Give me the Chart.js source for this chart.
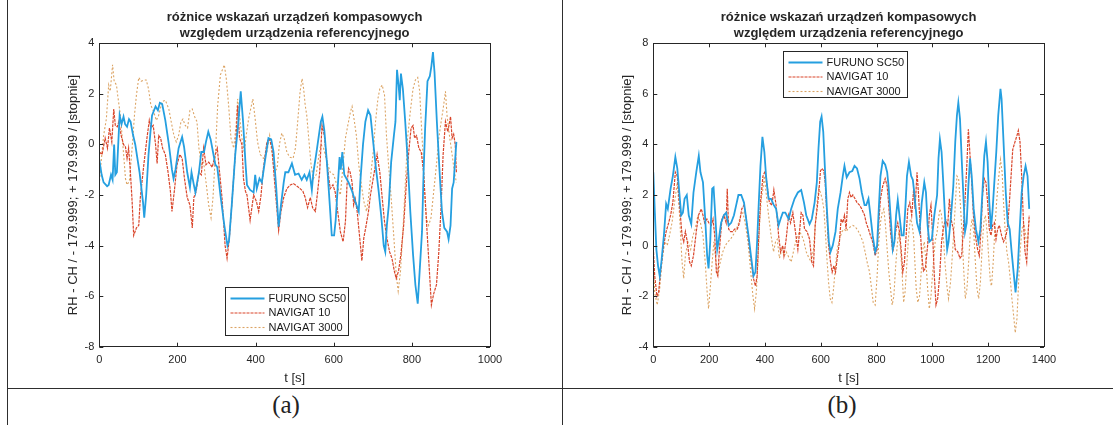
<!DOCTYPE html>
<html>
<head>
<meta charset="utf-8">
<script src="https://cdn.jsdelivr.net/npm/chart.js@4/dist/chart.umd.min.js"></script>
<style>
  body { margin: 0; background: #fff; width: 1113px; height: 425px; overflow: hidden; position: relative; font-family: "Liberation Sans", Arial, sans-serif; }
  .box { position: absolute; top: 0; }
  .rule { position: absolute; background: #2e2e2e; }
  .cap { position: absolute; top: 391px; width: 80px; text-align: center; font-family: "Liberation Serif", "DejaVu Serif", serif; font-size: 25px; color: #222; }
</style>
</head>
<body>
<div class="rule" style="left:7px; top:0; width:1px; height:425px;"></div>
<div class="rule" style="left:562px; top:0; width:1px; height:425px;"></div>
<div class="rule" style="left:7px; top:388px; width:1106px; height:1px;"></div>
<div class="box" style="left:55px;"><canvas id="chartA" width="465" height="390"></canvas></div>
<div class="box" style="left:609px;"><canvas id="chartB" width="465" height="390"></canvas></div>
<div class="cap" style="left:246px;">(a)</div>
<div class="cap" style="left:802px;">(b)</div>
<script>
const titleLines = ['różnice wskazań urządzeń kompasowych', 'względem urządzenia referencyjnego'];
const yLabel = 'RH - CH / - 179.999; + 179.999 / [stopnie]';
const xLabel = 't [s]';
const seriesNames = ['FURUNO SC50', 'NAVIGAT 10', 'NAVIGAT 3000'];

// (a)
const aFurunoT = [0,6,11,20,24,30,34,38,41,45,52,57,62,66,71,76,80,86,92,103,112,115,120,126,131,135,144,150,155,161,169,178,186,190,195,203,212,217,225,232,236,242,246,255,261,268,273,279,285,291,297,302,310,320,328,332,339,348,356,362,368,374,378,386,395,399,403,410,416,425,433,440,446,453,459,465,472,476,484,493,501,510,518,525,531,538,544,548,555,561,567,571,576,583,591,595,601,605,611,615,618,622,627,638,647,655,664,668,675,681,688,694,700,707,715,722,728,732,736,741,747,754,758,762,766,769,772,777,783,789,796,803,809,815,820,826,830,834,840,846,850,854,858,864,871,877,883,890,894,899,903,907,911,914];
const aFurunoV = [-0.6,-1.2,-1.5,-1.65,-1.6,-1.2,-1.4,0,-1.2,-1.1,1.15,0.8,1.1,0.8,0.7,1,0.9,0.4,0,-1.1,-2.3,-2.9,-2,-0.4,0.5,1.15,1.5,1.35,1.65,1.6,0.95,0,-1,-1.35,-1,-0.15,0.3,-0.1,-1.1,-1.7,-1.1,-1.6,-1.9,-1.1,-0.3,-0.3,0.1,0.5,0.2,-0.3,-0.8,-0.9,-2,-3.2,-4,-3.8,-2.4,-0.4,0.9,2.1,0.9,-0.7,-1.6,-1.8,-1.9,-1.2,-1.75,-1.35,-1.5,-0.55,0.25,0.2,-0.3,-1.75,-3.25,-2.4,-1.5,-1.1,-1.1,-0.75,-1.2,-1.15,-1.4,-1.2,-1.4,-1.1,-1.8,-1.1,-0.4,0.25,0.9,1.1,0.55,-0.8,-2.65,-3.6,-3.6,-3,-1.5,-0.5,-1,-0.3,-1.2,-1.5,-1.85,-2.25,-2.65,-1.5,0,0.9,1.35,1.15,0.25,-0.8,-1.85,-2.9,-4,-4.25,-3.2,-2.4,-0.7,0.35,0.9,2.95,2.35,1.75,2.8,2.2,0.9,-0.55,-2.65,-4.35,-5.55,-6.3,-5,-3.45,-1.1,0.65,2.5,2.7,3.1,3.65,2.85,0.9,-1.1,-2.65,-3.3,-3.45,-3.75,-3.2,-1.75,-1.5,-0.55,0.1];
const aNav10T = [0,7,15,21,26,32,37,41,46,50,56,62,67,71,75,79,84,88,95,101,105,114,122,128,132,138,144,148,152,157,162,169,176,182,186,192,199,206,212,218,225,232,238,242,248,255,261,267,273,280,289,297,302,314,322,327,333,339,348,354,359,365,369,374,378,386,395,402,408,414,420,429,435,442,448,455,459,465,472,480,489,497,506,514,521,527,533,540,546,553,559,564,570,576,583,591,598,604,608,617,624,630,634,638,642,647,651,655,660,665,670,672,677,683,689,694,701,707,711,718,724,730,736,743,749,755,760,766,772,779,785,792,798,803,807,812,818,824,830,835,841,846,850,856,863,869,875,880,886,892,899,903,907,911,914];
const aNav10V = [-0.3,-0.4,0.25,-0.15,0.65,0.1,1.4,0.75,0.7,0.9,0.35,0,-0.1,-0.55,-0.15,-0.95,-2.25,-3.6,-3.3,-3.2,-2.1,-0.8,0.25,0.95,0.65,0.75,0,-0.75,0.35,0.25,-0.15,-0.4,-1.1,-1.85,-2.65,-1.85,-0.8,-0.4,-0.55,-1.35,-2.1,-2.4,-3.3,-2.1,-1.85,-1.1,-1.2,-0.15,-0.8,-0.7,-0.9,-0.4,-0.15,-2.1,-4,-4.5,-3.7,-2.4,-0.4,1.55,0.25,0,-1.35,-1.85,-2,-3,-2,-2.25,-2.65,-2,-0.95,0.1,0.25,-0.15,-1.35,-2.65,-3.4,-2.65,-2.1,-1.75,-1.6,-1.55,-1.65,-1.75,-1.85,-2.1,-2.5,-2.1,-2.5,-2.65,-1.85,-1.1,0.75,0.35,-0.8,-1.75,-1.6,-1.9,-2.4,-3.45,-3.85,-3.05,-1.6,-0.95,-1.1,-1.5,-2.4,-2.15,-2.65,-3.45,-4.25,-4.6,-3.7,-3.2,-2.65,-2,-1.35,-0.8,-0.4,-1.1,-2.1,-3.05,-3.7,-4.25,-4.5,-5,-5.3,-5,-4.35,-3.2,-1.75,-0.3,0.65,0.75,0.25,0.35,-0.15,-0.3,-1.1,-2.4,-4,-5.3,-6.35,-5.9,-5.55,-4.25,-2.4,-0.4,0.9,0.5,1.1,0.25,0.4,0,-1.1];
const aNav3000T = [0,4,11,18,24,28,34,38,44,47,54,61,67,71,77,84,90,95,101,107,114,120,126,132,139,146,152,161,169,178,184,191,197,203,209,214,220,226,232,238,244,250,255,261,267,274,280,286,291,297,303,310,320,325,331,337,344,350,354,359,365,371,376,382,386,393,399,405,412,420,429,436,442,448,455,461,467,473,480,487,496,502,507,514,519,523,527,531,536,542,548,555,561,567,574,583,591,600,608,617,624,630,636,643,647,653,658,664,670,677,684,689,694,701,707,713,718,724,730,735,741,747,754,760,765,771,777,783,789,796,803,809,815,820,824,829,833,837,843,849,856,863,869,875,880,886,890,897,903,909,914];
const aNav3000V = [-1.6,-0.8,0.35,1,2.35,2.1,3.15,2.5,2.35,1.95,1.15,-0.15,-1.35,-1.6,-1.45,-0.15,1.15,1.95,2.65,2.5,2.55,2.55,2.2,1.55,1.3,0.95,1.15,1.7,1.75,1.4,0.9,0.35,0.1,0.35,0.9,1,0.75,0.65,1.35,1.4,1.1,0.9,-0.15,-0.8,-0.7,-1.6,-2.4,-2.9,-2.1,-0.4,1.55,2.75,3.15,2.6,1.55,0.25,-0.15,0.75,1.8,1.15,0.25,-0.3,0.35,1,1.3,1.8,1,0.1,-0.4,-0.55,-0.3,0.35,-0.35,-1.1,-0.95,0,0.45,0.25,-0.3,-0.5,-0.55,-0.15,0.75,2.1,2.6,2.2,1.55,1.15,0.25,-0.8,-1.35,-1.2,-0.55,0,-0.15,-0.7,-1.1,-1.2,-1.6,-2,-0.8,0.25,0.75,1.3,1.5,0.9,0.35,-0.8,-1.5,-2.25,-2.65,-2.1,-1.35,-0.3,0.9,1.8,2.2,2.35,1.95,0.35,-0.95,-2.1,-3.7,-5.15,-5.8,-5,-3.45,-1.6,0.25,1.3,2.2,2.55,2.65,2.1,0.9,-0.55,-2,-2.9,-3.2,-2.9,-1.85,-0.8,0.25,0.9,1.4,2.1,1.15,0.25,-0.4,-1.1,-1.5];

// (b)
const bFurunoT = [0,5,11,17,23,29,38,46,52,62,70,79,86,94,100,106,112,120,127,136,144,154,163,169,178,186,193,198,204,211,216,222,229,235,243,253,261,270,279,289,297,305,315,325,333,341,351,359,366,372,378,384,391,398,404,413,422,432,440,449,456,464,473,485,494,506,518,530,540,548,560,568,578,586,592,598,603,609,615,622,629,635,643,653,661,671,679,685,693,703,713,721,730,739,747,757,763,771,778,786,795,802,808,814,822,831,838,843,850,858,864,870,876,882,890,897,903,909,916,924,930,936,945,954,962,971,977,983,989,998,1007,1017,1022,1027,1033,1039,1045,1053,1058,1067,1075,1082,1088,1093,1099,1105,1111,1117,1123,1129,1135,1141,1148,1156,1165,1172,1180,1186,1192,1198,1204,1210,1216,1222,1229,1236,1244,1248,1255,1263,1270,1277,1284,1291,1298,1306,1313,1320,1327,1334,1341,1347];
const bFurunoV = [2.9,1.45,-0.15,-0.8,-1.2,-0.65,0.4,1.65,1.45,2.25,2.75,3.5,3.05,2,1.2,1.3,1.85,2,1.2,0.85,2.1,2.9,3.55,2.9,2.5,1.05,-0.4,-0.9,0.15,2.25,2.3,1.2,-0.15,0.25,0.9,1.2,1.3,0.8,0.9,1.2,1.6,2,2,1.7,1.05,0.4,-0.5,-1.2,-1.05,0.15,1.7,3.15,4.3,3.7,2.75,1.85,1.85,1.6,1.45,0.8,1.05,1.3,1.3,1.05,1.45,1.85,2.1,2.2,1.7,1.2,0.85,1.05,1.7,2.5,3.85,4.9,5.1,4.5,3.05,1.45,0.15,-0.25,0,0.55,1.45,2.1,2.75,3.15,2.7,2.9,2.95,3.15,3.05,2.65,2.1,1.6,1.6,1.85,1.2,0.4,-0.25,0,1.45,2.75,3.35,3.2,2.9,2.35,1.2,-0.15,0.15,1.2,1.8,1.2,0.4,0.4,1.45,2.75,3.3,2.75,2.6,2,0.9,0.55,1.7,2.5,2.1,0.8,0.15,0.25,1.2,2,3.45,4.2,3.7,2.5,1.2,-0.15,0.15,1.2,2.35,4.1,5.15,5.65,5,3.45,2,0.55,0.9,2.35,3.45,2.75,1.45,0.65,0.15,0.65,2.25,3.55,4.1,3.3,1.7,0.65,1.45,2.5,3.7,5.15,6.2,5.8,4.1,2.1,0.9,0.65,-0.25,-1.05,-1.85,-0.9,0.65,2.1,2.75,3.15,2.75,1.45];
const bNav10T = [0,5,13,19,26,35,41,46,55,62,70,79,86,94,103,109,115,122,130,136,144,154,162,172,178,184,192,199,208,214,220,226,231,237,246,253,261,265,270,277,285,291,301,309,317,325,333,341,351,359,366,372,377,384,393,401,408,416,425,432,440,449,456,464,468,476,485,492,500,508,518,524,530,536,542,551,560,568,574,580,587,593,599,605,611,616,622,628,635,641,647,653,659,667,673,679,685,691,697,703,709,715,723,730,739,747,757,763,771,778,786,795,802,808,814,822,831,838,843,850,858,864,870,876,882,888,894,900,906,912,919,926,933,938,945,950,956,962,968,975,983,989,995,1001,1007,1013,1019,1026,1033,1039,1047,1055,1061,1067,1075,1082,1091,1099,1105,1111,1118,1124,1129,1135,1141,1147,1154,1162,1168,1174,1180,1186,1192,1198,1204,1210,1216,1222,1228,1234,1240,1248,1255,1264,1270,1276,1282,1288,1296,1303,1308,1314,1320,1326,1332,1338,1344,1347];
const bNav10V = [-0.1,-1.2,-2,-1.85,-1.05,-0.15,0.25,0.55,0.9,1.2,1.7,2.9,2.75,1.6,0.4,0.15,0.55,0.15,-0.65,-0.8,-0.4,0.55,1.2,1.45,1.2,0.9,1.05,0.9,0.8,1.05,0.4,-1.05,-1.2,-0.15,1.05,1.2,0.9,2.25,0.65,0.55,0.55,0.65,0.65,0.9,1.45,1.6,1.05,0.25,-0.65,-1.3,-1.6,-1.2,0.15,1.7,2.75,2.95,2.35,1.7,1.6,2.2,1.6,0.4,-0.25,0,-0.4,0.25,1.2,0.9,1.3,0.65,-0.15,0.55,1.3,1.2,0.65,0.55,0.25,-0.65,-0.8,0.8,1.45,2.1,2.95,3.05,2.95,2.5,1.2,0,-0.65,-1.05,-0.8,-1.05,-0.5,0.15,1.05,0.9,1.2,0.65,1.85,2.1,1.9,2,1.85,1.7,1.6,1.45,1.2,0.9,0.65,0.4,0.15,-0.4,-0.15,0.9,1.85,2.35,2.65,2.35,1.7,0.55,-0.25,0.15,0.65,0.9,0.55,-0.15,-1.05,-0.65,0.4,1.45,1.7,1.2,2.25,1.45,2.9,2.1,0.8,-0.4,-1,-0.9,0,1.2,1.6,0.4,-1.2,-2.35,-2.1,-1.2,0.15,0.65,1.05,0.8,1.85,1.05,0.65,-0.15,-0.25,-0.5,-0.4,0.65,2,3.3,4.6,3.55,2.5,1.2,0.4,-0.15,-0.4,0.55,2,2.65,2.5,1.7,0.65,0.4,0.8,0.9,0.25,0.65,0.8,0.4,0.15,0.4,0.8,1.7,2.75,3.8,4.1,4.35,4.55,4.1,2.75,1.05,-0.25,-0.65,0.65,1.2];
const bNav3000T = [0,5,14,23,31,41,50,58,67,76,86,94,103,109,115,124,134,142,150,160,169,178,186,193,198,204,211,217,225,231,240,249,258,267,277,285,294,303,313,321,329,339,348,357,363,369,375,381,387,393,398,404,413,422,431,438,444,452,461,470,476,485,494,504,512,524,532,540,548,556,566,574,581,587,593,599,605,611,616,622,628,634,640,646,652,659,667,676,685,691,697,707,715,723,733,742,751,759,766,775,781,788,795,802,808,814,820,826,832,838,844,850,856,862,868,874,880,886,892,897,902,909,915,921,927,933,942,948,954,960,966,971,977,983,989,995,1001,1010,1017,1022,1027,1033,1039,1045,1053,1058,1065,1070,1076,1082,1088,1094,1100,1106,1112,1118,1124,1130,1136,1142,1148,1154,1160,1166,1172,1178,1184,1190,1196,1202,1208,1212,1218,1224,1230,1236,1244,1250,1255,1261,1267,1273,1279,1285,1291,1297,1303,1309,1315,1321,1327,1333,1339,1345,1348];
const bNav3000V = [-0.65,-1.85,-2.35,-1.7,-0.65,0.15,0,0.4,0.9,1.7,2.5,1.2,-0.65,-1.3,-0.4,0.15,-0.15,0.4,0.65,1.2,0.9,0.4,-0.65,-1.85,-2.5,-1.7,-0.65,0.15,-0.65,-1.2,-0.65,-0.25,0,0.15,0.25,0.4,0.55,0.8,1.2,1.3,0.9,0.15,-0.9,-2,-2.5,-1.85,-0.65,0.9,1.85,2.25,2.75,2.1,1.2,0.4,-0.25,0.15,0.25,-0.5,-0.15,-0.4,-0.25,-0.45,-0.65,-0.15,0.25,0.55,0.4,0.15,-0.25,-0.45,-0.65,-0.15,0.9,1.7,2.25,2.1,1.85,1.45,0.65,-0.5,-1.45,-2.1,-2.25,-1.7,-0.9,-0.15,0.25,0.55,0.65,0.55,0.65,0.75,0.8,0.75,0.6,0.4,0.15,-0.25,-0.65,-1.05,-1.6,-2.25,-2.35,-1.2,0.15,0.9,1.3,1.45,0.8,-0.15,-1.05,-1.7,-2.35,-2,-0.9,0,0.55,-0.15,-1.2,-2.25,-1.85,-0.65,0.4,1.05,0.9,0.3,-1.7,-2.25,-2,-1.05,-0.15,0.15,-0.65,-1.7,-2.5,-2,-1.05,0.15,0.55,1.05,1.45,1.2,0.4,-0.65,-1.7,-2.1,-1.45,-0.65,0.4,1.6,2.75,2.65,1.7,0.55,-0.9,-2.1,-1.7,-0.65,0.55,1.05,0.55,-0.65,-1.7,-2.1,-1.45,-0.15,0.9,1.2,0.55,-0.5,-1.45,-1.6,-0.65,0.65,1.7,2.5,3.4,2.9,1.7,0.55,-0.25,-0.65,-1.3,-2.1,-2.75,-3.45,-2.9,-1.45,-0.15,0.65,0.9,0.55,-0.15,0.8,1.05];

const lineColors = ['#259fe0', '#d9452a', '#dca464'];
const lineWidths = [1.8, 1.2, 1.1];
const lineDashes = [[], [3, 1], [2, 2]];
const font = '"Liberation Sans", Arial, sans-serif';

function pairs(t, v) {
    return t.map((x, i) => ({ x: x, y: v[i] }));
}

// MATLAB-like box with inward ticks and an in-plot legend
const matlabFrame = {
    id: 'matlabFrame',
    afterDraw(chart, args, opts) {
        const { ctx, chartArea: a, scales: { x, y } } = chart;
        ctx.save();
        ctx.strokeStyle = '#262626';
        ctx.lineWidth = 1;
        ctx.strokeRect(Math.round(a.left) + 0.5, Math.round(a.top) + 0.5, Math.round(a.width), Math.round(a.height));
        ctx.beginPath();
        x.ticks.forEach(t => {
            const px = Math.round(x.getPixelForValue(t.value)) + 0.5;
            ctx.moveTo(px, a.bottom); ctx.lineTo(px, a.bottom - 4);
            ctx.moveTo(px, a.top); ctx.lineTo(px, a.top + 4);
        });
        y.ticks.forEach(t => {
            const py = Math.round(y.getPixelForValue(t.value)) + 0.5;
            ctx.moveTo(a.left, py); ctx.lineTo(a.left + 4, py);
            ctx.moveTo(a.right, py); ctx.lineTo(a.right - 4, py);
        });
        ctx.stroke();

        const bx = Math.round(a.left + opts.left) + 0.5;
        const by = Math.round(a.top + opts.top) + 0.5;
        ctx.fillStyle = '#fff';
        ctx.fillRect(bx, by, opts.width, opts.height);
        ctx.strokeRect(bx, by, opts.width, opts.height);
        ctx.font = '11px ' + font;
        ctx.textBaseline = 'middle';
        chart.data.datasets.forEach((ds, i) => {
            const ry = by + 11 + i * 14.5;
            ctx.strokeStyle = ds.borderColor;
            ctx.lineWidth = ds.borderWidth;
            ctx.setLineDash(ds.borderDash);
            ctx.beginPath();
            ctx.moveTo(bx + 5, ry); ctx.lineTo(bx + 39, ry);
            ctx.stroke();
            ctx.setLineDash([]);
            ctx.fillStyle = '#1a1a1a';
            ctx.fillText(ds.label, bx + 43, ry);
        });
        ctx.restore();
    }
};

function makeChart(id, series, xMax, yMin, yMax, legend) {
    new Chart(document.getElementById(id), {
        type: 'line',
        data: {
            datasets: series.map((s, i) => ({
                label: seriesNames[i],
                data: pairs(s[0], s[1]),
                borderColor: lineColors[i],
                borderWidth: lineWidths[i],
                borderDash: lineDashes[i],
                pointRadius: 0,
                tension: 0,
                fill: false
            }))
        },
        options: {
            responsive: false,
            animation: false,
            devicePixelRatio: 1,
            layout: { padding: { left: 0, right: 30, top: 0, bottom: 0 } },
            plugins: {
                legend: { display: false },
                tooltip: { enabled: false },
                title: {
                    display: true,
                    text: titleLines,
                    fullSize: false,
                    color: '#262626',
                    font: { family: font, size: 13, weight: 'bold', lineHeight: 1.2 },
                    padding: { top: 10, bottom: 2.1 }
                },
                matlabFrame: legend
            },
            scales: {
                x: {
                    type: 'linear',
                    min: 0,
                    max: xMax,
                    afterFit: s => { s.height = 43.3; },
                    grid: { display: false, drawTicks: false, tickLength: 0 },
                    border: { display: false },
                    ticks: { stepSize: 200, padding: 7, color: '#262626', font: { family: font, size: 11 }, callback: v => String(v) },
                    title: { display: true, text: xLabel, color: '#262626', padding: { top: 2, bottom: 4.2 }, font: { family: font, size: 13 } }
                },
                y: {
                    min: yMin,
                    max: yMax,
                    afterFit: s => { s.width = 44.3; },
                    grid: { display: false, drawTicks: false, tickLength: 0 },
                    border: { display: false },
                    ticks: { stepSize: 2, padding: 5, color: '#262626', font: { family: font, size: 11 }, callback: v => String(v) },
                    title: { display: true, text: yLabel, color: '#262626', padding: { top: 10.2, bottom: 0 }, font: { family: font, size: 13 } }
                }
            }
        },
        plugins: [matlabFrame]
    });
}

makeChart('chartA',
    [[aFurunoT, aFurunoV], [aNav10T, aNav10V], [aNav3000T, aNav3000V]],
    1000, -8, 4,
    { left: 126, top: 244, width: 123, height: 48 });

makeChart('chartB',
    [[bFurunoT, bFurunoV], [bNav10T, bNav10V], [bNav3000T, bNav3000V]],
    1400, -4, 8,
    { left: 130, top: 8, width: 124, height: 46 });
</script>
</body>
</html>
